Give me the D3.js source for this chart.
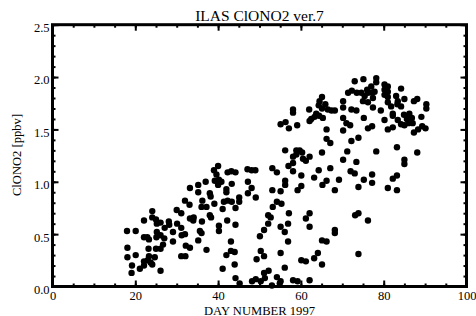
<!DOCTYPE html>
<html><head><meta charset="utf-8">
<script src="https://cdn.jsdelivr.net/npm/d3@7"></script>
<style>
body{margin:0;background:#fff}
svg{display:block}
text{font-family:"Liberation Serif","Times New Roman",serif;fill:#000}
</style>
</head><body>
<svg id="chart" width="476" height="316"></svg>
<script>
const title = "ILAS ClONO2 ver.7";
const xLabel = "DAY NUMBER 1997";
const yLabel = "ClONO2 [ppbv]";
const xMajorTicks = [0, 20, 40, 60, 80, 100];
const yMajorTicks = [0.0, 0.5, 1.0, 1.5, 2.0, 2.5];

// [day number, ClONO2 ppbv]
const samples = [
[18.0,0.53],[20.1,0.53],[18.1,0.37],[18.1,0.28],[20.1,0.30],[19.2,0.20],[19.1,0.13],[21.1,0.17],[22.1,0.20],[22.1,0.24],
[23.0,0.25],[23.3,0.29],[23.7,0.23],[24.1,0.21],[24.7,0.28],[23.2,0.36],[25.0,0.36],[26.1,0.36],[26.7,0.40],[26.1,0.15],
[22.1,0.47],[23.3,0.45],[22.9,0.47],[22.1,0.63],[24.1,0.72],[24.1,0.66],[25.0,0.64],[25.2,0.60],[26.1,0.61],[25.2,0.52],
[25.1,0.47],[26.1,0.49],[27.1,0.56],[27.0,0.46],[28.1,0.62],[28.2,0.59],[29.1,0.52],[29.1,0.43],[30.0,0.73],[31.1,0.70],
[30.1,0.60],[31.1,0.56],[31.2,0.49],[32.0,0.50],[32.2,0.39],[33.2,0.37],[31.1,0.29],[32.1,0.29],[32.0,0.82],[33.1,0.78],
[33.2,0.94],[35.2,0.97],[35.2,0.90],[37.0,1.00],[36.2,0.82],[34.1,0.66],[33.2,0.65],[34.0,0.63],[36.1,0.62],[35.6,0.53],
[36.0,0.51],[35.2,0.44],[37.2,0.35],[36.0,0.76],[37.2,0.76],[38.0,0.68],[38.0,0.89],
[40.0,1.15],[39.0,1.11],[39.6,1.07],[42.3,1.09],[43.2,1.10],[44.2,1.09],[47.1,1.12],[48.1,1.11],[49.0,1.11],[53.1,1.13],
[54.2,1.09],[39.2,1.01],[40.2,1.02],[40.8,1.00],[40.0,0.97],[42.0,0.93],[42.0,0.90],[43.3,0.98],[47.2,1.00],[48.1,0.94],
[47.2,0.89],[49.1,0.85],[53.1,0.92],[56.2,1.01],[56.2,0.97],[55.1,0.91],[54.2,0.81],[55.3,0.79],[53.2,0.76],[38.2,0.86],
[39.1,0.79],[41.4,0.81],[42.3,0.82],[43.3,0.81],[45.1,0.85],[45.1,0.81],[44.2,0.75],[41.1,0.74],[38.3,0.66],[40.2,0.58],
[40.2,0.53],[42.2,0.63],[44.2,0.59],[43.1,0.43],[43.1,0.34],[42.0,0.30],[44.0,0.33],[44.0,0.21],[41.1,0.17],[44.2,0.08],
[45.2,0.03],[50.1,0.48],[51.1,0.54],[52.1,0.60],[52.1,0.68],[52.7,0.66],[55.1,0.57],[56.1,0.52],[56.9,0.60],[56.9,0.43],
[55.1,0.32],[50.3,0.34],[51.1,0.29],[49.3,0.26],[51.1,0.13],[52.2,0.15],[49.1,0.07],[48.2,0.05],[50.3,0.05],[53.0,0.01],
[54.2,0.09],[54.9,0.03],[55.1,0.05],[56.1,0.18],[55.1,1.55],[56.3,1.57],[57.1,1.51],[56.2,1.30],[57.0,1.15],[51.3,0.08],
[57.1,0.70],
[73.0,1.96],[71.4,1.85],[72.3,1.87],[73.5,1.85],[65.1,1.81],[64.5,1.77],[64.3,1.73],[65.1,1.70],[65.9,1.74],[66.5,1.69],
[67.4,1.68],[68.2,1.68],[58.1,1.69],[58.1,1.66],[62.0,1.69],[63.7,1.65],[63.3,1.62],[62.1,1.58],[62.5,1.60],[64.4,1.63],
[65.3,1.61],[70.2,1.77],[70.2,1.71],[72.2,1.69],[73.4,1.68],[70.2,1.61],[71.0,1.56],[71.9,1.54],[70.2,1.49],[66.2,1.50],
[59.1,1.54],[72.2,1.39],[73.9,1.42],[66.2,1.41],[67.1,1.37],[58.9,1.30],[59.7,1.30],[60.3,1.28],[58.9,1.26],[58.1,1.24],
[60.5,1.22],[61.2,1.20],[62.1,1.24],[65.1,1.28],[70.2,1.21],[71.2,1.29],[58.1,1.18],[58.1,1.10],[60.1,1.06],[64.3,1.11],
[63.2,1.04],[67.1,1.13],[72.0,1.10],[73.0,1.08],[66.2,1.01],[65.2,0.97],[69.2,1.02],[68.2,0.92],[59.2,0.92],[60.1,0.96],
[73.9,0.95],[62.1,0.70],[61.2,0.65],[62.1,0.57],[68.2,0.54],[68.2,0.51],[65.1,0.44],[66.2,0.43],[73.1,0.68],[73.9,0.70],
[60.1,0.25],[61.2,0.24],[63.2,0.27],[64.1,0.32],[65.1,0.21],[73.9,0.31],[58.1,0.06],[59.2,0.05],[62.1,0.06],
[75.1,1.98],[78.2,1.99],[78.2,1.95],[80.2,1.93],[81.0,1.91],[74.6,1.85],[76.0,1.88],[77.0,1.91],[77.2,1.85],[77.8,1.86],
[76.2,1.85],[80.2,1.88],[81.0,1.86],[80.2,1.83],[81.0,1.81],[84.2,1.89],[83.0,1.82],[85.0,1.79],[83.4,1.77],[87.3,1.77],
[88.1,1.79],[90.3,1.74],[90.3,1.70],[75.0,1.77],[75.4,1.82],[76.2,1.76],[77.4,1.80],[77.4,1.71],[79.3,1.68],[81.0,1.76],
[81.8,1.72],[83.3,1.74],[84.2,1.72],[82.2,1.65],[82.2,1.63],[84.9,1.64],[86.2,1.65],[85.6,1.60],[86.8,1.61],[87.0,1.56],
[86.0,1.56],[85.0,1.54],[84.2,1.55],[75.2,1.61],[80.2,1.59],[83.4,1.59],[89.1,1.62],[89.3,1.53],[90.1,1.51],[88.3,1.50],
[87.3,1.47],[76.2,1.51],[77.2,1.53],[81.0,1.50],[82.2,1.52],[78.2,1.29],[83.2,1.33],[88.1,1.28],[85.0,1.21],[85.0,1.17],
[73.4,1.19],[75.2,1.02],[77.2,1.07],[77.2,0.99],[83.2,1.06],[82.2,1.03],[81.0,0.94],[83.2,0.92],[76.2,0.63]
];

const W = 476, H = 316;
const margin = {left: 52.5, right: 9.5, top: 24.7, bottom: 29.5};
const svg = d3.select("#chart");

const x = d3.scaleLinear().domain([0, 100]).range([margin.left, W - margin.right]);
const y = d3.scaleLinear().domain([0, 2.5]).range([H - margin.bottom, margin.top]);

const x0 = x.range()[0], x1 = x.range()[1], y0 = y.range()[0], y1 = y.range()[1];

function styleAxis(g) {
  g.select(".domain").remove();
  g.selectAll(".tick line").attr("stroke", "#000").attr("stroke-width", 2);
  g.selectAll("text").style("font-size", "12.5px").attr("fill", "#000");
}

const xMinor = d3.range(0, 101, 5);
const yMinor = d3.range(0, 26, 1).map(d => d / 10);

// minor ticks
svg.append("g").attr("transform", `translate(0,${y0})`)
  .call(d3.axisBottom(x).tickValues(xMinor).tickSize(-3).tickFormat("")).call(styleAxis);
svg.append("g").attr("transform", `translate(0,${y1})`)
  .call(d3.axisTop(x).tickValues(xMinor).tickSize(-3).tickFormat("")).call(styleAxis);
svg.append("g").attr("transform", `translate(${x0},0)`)
  .call(d3.axisLeft(y).tickValues(yMinor).tickSize(-3).tickFormat("")).call(styleAxis);
svg.append("g").attr("transform", `translate(${x1},0)`)
  .call(d3.axisRight(y).tickValues(yMinor).tickSize(-3).tickFormat("")).call(styleAxis);

// major ticks
const gx = svg.append("g").attr("transform", `translate(0,${y0})`)
  .call(d3.axisBottom(x).tickValues(xMajorTicks).tickSize(-6).tickPadding(5).tickFormat(d3.format("d"))).call(styleAxis);
svg.append("g").attr("transform", `translate(0,${y1})`)
  .call(d3.axisTop(x).tickValues(xMajorTicks).tickSize(-6).tickFormat("")).call(styleAxis);
const gy = svg.append("g").attr("transform", `translate(${x0},0)`)
  .call(d3.axisLeft(y).tickValues(yMajorTicks).tickSize(-6).tickPadding(3).tickFormat(d3.format(".1f"))).call(styleAxis);
gy.selectAll("text").attr("dy", "0.55em");
svg.append("g").attr("transform", `translate(${x1},0)`)
  .call(d3.axisRight(y).tickValues(yMajorTicks).tickSize(-6).tickFormat("")).call(styleAxis);

// frame
svg.append("rect").attr("x", x0).attr("y", y1).attr("width", x1 - x0).attr("height", y0 - y1)
  .attr("fill", "none").attr("stroke", "#000").attr("stroke-width", 3);

// points
svg.append("g").selectAll("circle").data(samples).join("circle")
  .attr("cx", d => x(d[0])).attr("cy", d => y(d[1])).attr("r", 3.2).attr("fill", "#000");

// texts
svg.append("text").attr("x", (x0 + x1) / 2).attr("y", 21).attr("text-anchor", "middle")
  .style("font-size", "15.5px").text(title);
svg.append("text").attr("x", (x0 + x1) / 2).attr("y", 314.5).attr("text-anchor", "middle")
  .style("font-size", "12.6px").text(xLabel);
svg.append("text").attr("transform", `translate(21,155) rotate(-90)`).attr("text-anchor", "middle")
  .style("font-size", "12.6px").text(yLabel);
</script>
</body></html>
